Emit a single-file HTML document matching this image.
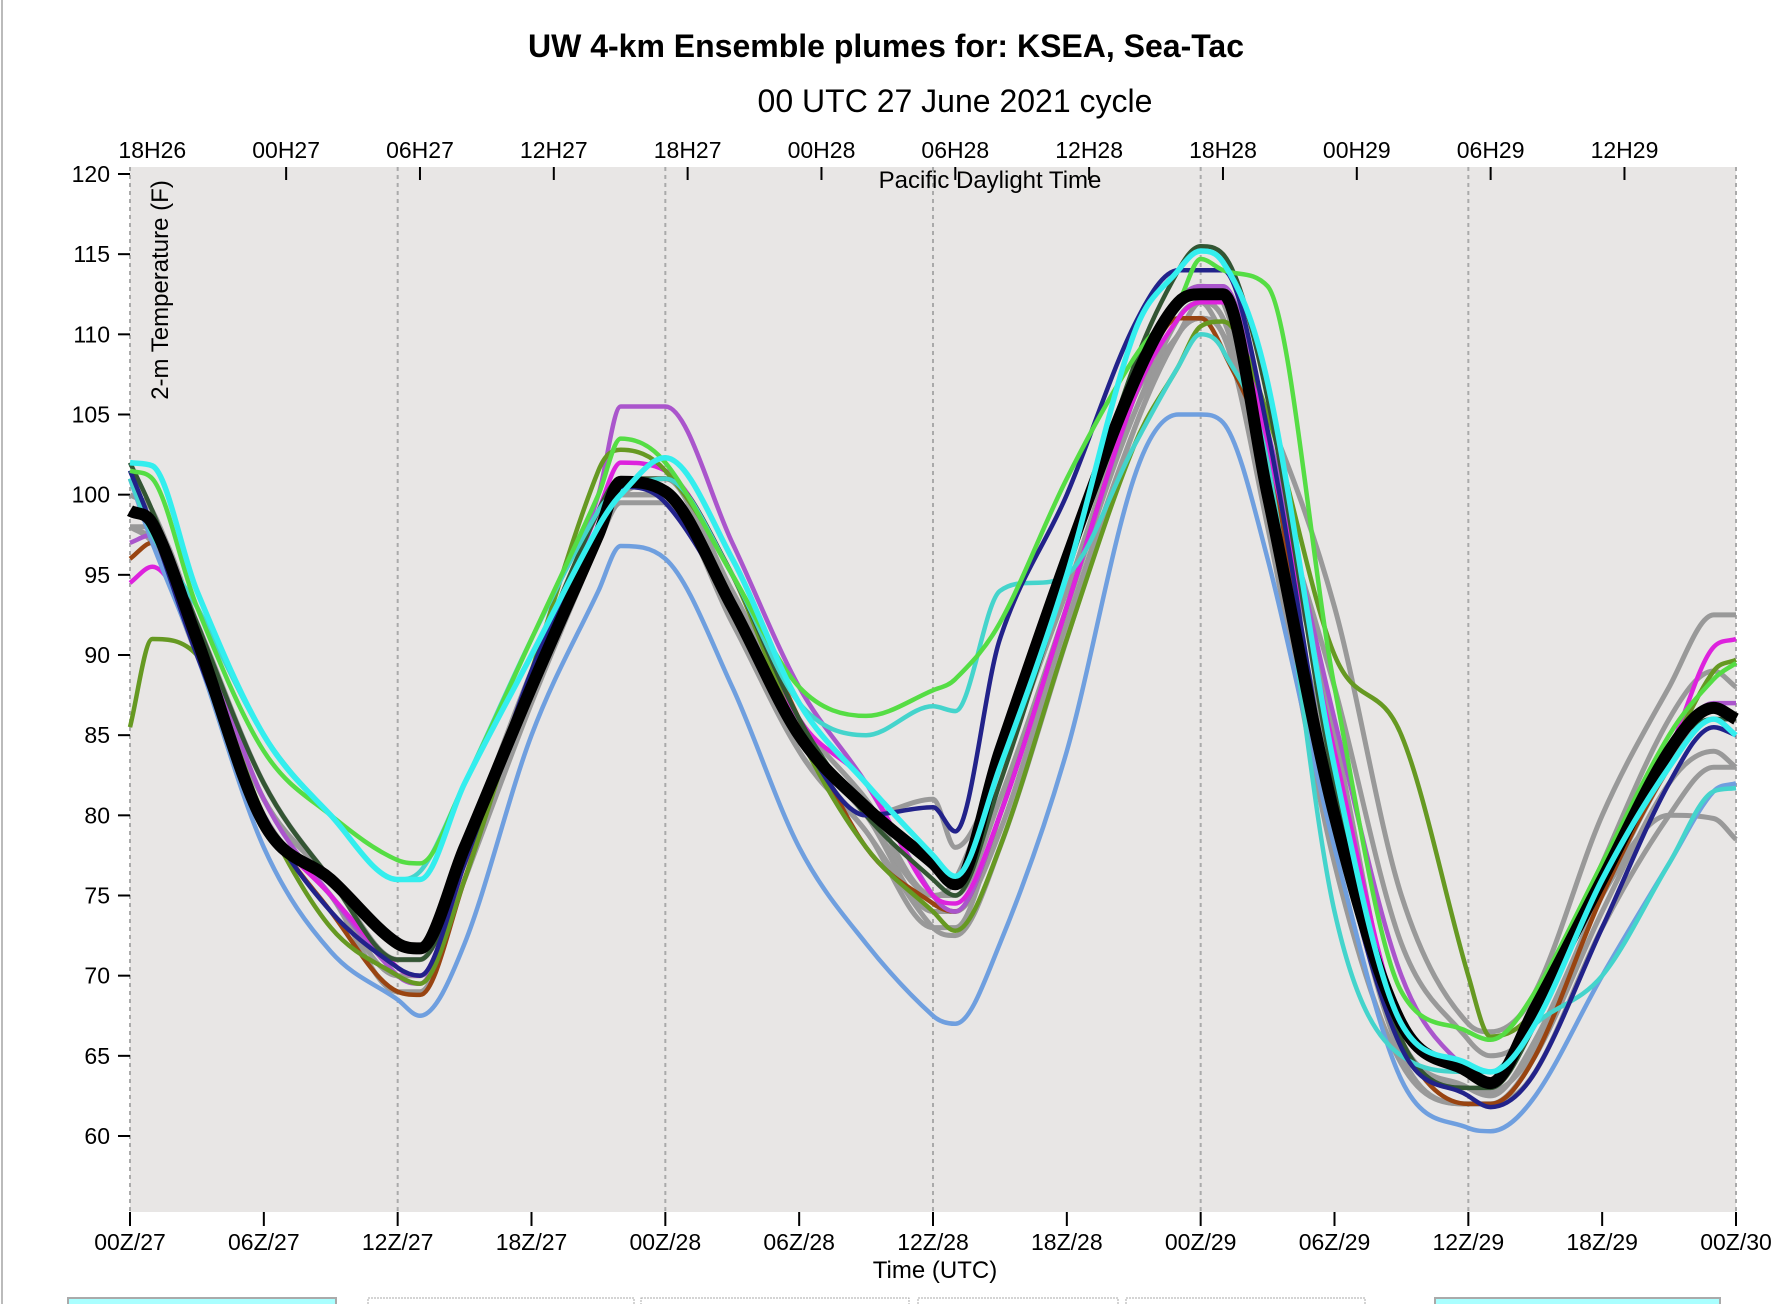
<!DOCTYPE html>
<html><head><meta charset="utf-8"><style>
html,body{margin:0;padding:0;background:#fff;}
svg{display:block;font-family:"Liberation Sans",sans-serif;}
</style></head><body>
<svg id="chart" width="1772" height="1304" viewBox="0 0 1772 1304">
<line x1="2" y1="0" x2="2" y2="1304" stroke="#bbb" stroke-width="2"/>
<text x="886" y="57" text-anchor="middle" font-size="32" font-weight="bold">UW 4-km Ensemble plumes for: KSEA, Sea-Tac</text>
<text x="955" y="112" text-anchor="middle" font-size="32">00 UTC 27 June 2021 cycle</text>
<rect x="130" y="167" width="1606" height="1045" fill="#e8e6e5"/>
<g id="grid"></g>
<g id="axes"></g>
<g id="series"></g>
<text x="990" y="188" text-anchor="middle" font-size="24">Pacific Daylight Time</text>
<text transform="translate(168,290) rotate(-90)" text-anchor="middle" font-size="24">2-m Temperature (F)</text>
<text x="935" y="1278" text-anchor="middle" font-size="24">Time (UTC)</text>
<rect x="68" y="1298" width="268" height="10" fill="#aaffff" stroke="#aaa" stroke-width="2"/>
<rect x="368" y="1298" width="266" height="10" fill="none" stroke="#aaa" stroke-dasharray="2,1"/>
<rect x="641" y="1298" width="268" height="10" fill="none" stroke="#aaa" stroke-dasharray="2,1"/>
<rect x="918" y="1298" width="200" height="10" fill="none" stroke="#aaa" stroke-dasharray="2,1"/>
<rect x="1126" y="1298" width="239" height="10" fill="none" stroke="#aaa" stroke-dasharray="2,1"/>
<rect x="1435" y="1298" width="285" height="10" fill="#aaffff" stroke="#aaa" stroke-width="2"/>
</svg>
<script>
const hours=[0,1,3,6,9,12,13,15,18,21,22,24,27,30,33,36,37,39,42,45,47,48,49,51,54,57,60,61,63,66,69,71,72];
const yTicks=[60,65,70,75,80,85,90,95,100,105,110,115,120];
const xTickLabels=["00Z/27","06Z/27","12Z/27","18Z/27","00Z/28","06Z/28","12Z/28","18Z/28","00Z/29","06Z/29","12Z/29","18Z/29","00Z/30"];
const topTickLabels=["18H26","00H27","06H27","12H27","18H27","00H28","06H28","12H28","18H28","00H29","06H29","12H29"];
const grey1=[98,97,90,80,75,70,70,76,88,97,99.5,99.5,92,84,79,73,72.5,78,91,104,110,111,110,98,77,64.5,62,62,64,73,80,83,83];
const grey2=[98,98,92,82,76,71,71,78,89,98,100,101,94,86,81,75,76,83,94,106,110,112,110,105,93,75,67,66.5,69,80,88,92.5,92.5];
const grey3=[100,99,92,82,76,71,71,77,88,97,100,100,93,85,80,81,78,83,94,105,111,112,111,101,85,66,63,62.5,66,75,83,86,85];
const grey4=[99,98,91,80,75,69,69,76,87,97,100,100,93,84,79,73,73,80,93,105,110,112,111,99,80,65,62,62,65,74,82,84,83];
const grey5=[98,97,92,81,76,71,71,77,88,97,100,100,93,85,80,74,74,79,92,104,110,111,110,100,82,66,63,62.8,65.5,75,80,79.8,78.5];
const grey6=[99,98,91,81,76,71,71,77,88,98,100.5,101,93,85,80,75,75,81,93,106,112,113,112,102,88,72,66,65,67,77,86,89,88];
const brown=[96,97,91,80,74,69,68.8,76,89,98,101,101,95,86,78,74.5,74,80,93,106,111,111,109,102,80,66,62,62,65,75,83,86,86];
const purple=[97,97.5,92,81,75,70,69.5,77,88,100,105.5,105.5,97,88,82,75,74,80,93,106,112,113,113,104,86,70,64,63.5,67,76,84,87,87];
const magenta=[94.5,95.5,91,80,75,70.5,70,77,89,99,102,101.5,95,86,82,75,74.5,80,93,106,111,112,112,103,84,67,64,63.5,67,76,84,90.5,91];
const olive=[85.5,91,90,80,73,70,69.5,76,89,101.5,102.8,101.5,95,85,78,74,72.8,78,91,103,108,110.5,110.8,105,90,85,70,66.2,68,77,84,89,89.7];
const darkgreen=[102,99,92,82,76,71,71,77,89,99,101,101,95,86,80,76,75,82,95,108,114,115.5,115,106,82,66,63,63,67,76,84,86,86];
const cornflower=[101,97,90,78,71.5,68.5,67.5,72,85,94,96.8,96,88,78,72,67.5,67,72,84,101,105,105,104.5,96,78,63.5,60.5,60.3,62.5,70,77,81.5,82];
const turquoise=[101,97.5,93,85,80,76,76.5,82,91,99,100.3,101,95,87,85,86.8,86.5,94,95,103,108,110,109,102,74,65,64,64,67,70,77,81.5,81.7];
const navy=[101.5,98,90,80,74,70.5,70,77,89,98,100.5,99.5,93,85,80,80.5,79,91,100,110.5,114,114,114,104,80,65.5,62.5,61.8,64,73,82,85.5,85];
const lightgreen=[101.5,101,93,84,80,77.2,77,82,91,100,103.5,102,95,88,86.2,87.8,88.5,92,101,108.5,112,114.7,114,113,88,69,66.5,66,69,77,85,88.5,89.5];
const mean=[99,98.2,91,79.5,76,72,71.7,78,88,97.5,100.8,100.2,93,85,80.5,77,75.7,84,96,107,112,112.5,112.5,100,80,67,64,63.3,68,76,84,86.7,86];
const cyan=[102,101.8,94,85,80,76,76,82,90,98,100,102.3,96,87,82,77.5,76.2,83,95,110,114,115.2,114.5,107,83,67,64.5,64,67,76,83,86,85];

const NS="http://www.w3.org/2000/svg";
const X0=130,X1=1736,Y120=174,PX=(1136-174)/60;
function xs(h){return X0+h*(X1-X0)/72;}
function ys(v){return Y120+(120-v)*PX;}
function mk(tag,attrs,parent){const e=document.createElementNS(NS,tag);for(const k in attrs)e.setAttribute(k,attrs[k]);parent.appendChild(e);return e;}
const grid=document.getElementById('grid'),axes=document.getElementById('axes'),ser=document.getElementById('series');
for(let i=0;i<xTickLabels.length;i++){
  const h=i*6,x=xs(h);
  if(i%2===0){const g=mk('line',{x1:x,y1:167,x2:x,y2:1212,stroke:'#aaa','stroke-width':2,'stroke-dasharray':'4,4'},grid);
  
  }
  const t=mk('line',{x1:x,y1:1212,x2:x,y2:1226,stroke:'#000','stroke-width':2},axes);
  
  
  const l=mk('text',{x:x,y:1250,'text-anchor':'middle','font-size':23},axes);l.textContent=xTickLabels[i];
  
  
}
for(let i=0;i<topTickLabels.length;i++){
  const h=1+i*6,x=xs(h);
  if(i>0){const t=mk('line',{x1:x,y1:167,x2:x,y2:180,stroke:'#000','stroke-width':2},axes);
  
  }
  const l=mk('text',{x:x,y:158,'text-anchor':'middle','font-size':23},axes);l.textContent=topTickLabels[i];
  
  
}
for(const v of yTicks){
  const y=ys(v);
  const t=mk('line',{x1:118,y1:y,x2:130,y2:y,stroke:'#000','stroke-width':2},axes);
  
  
  const l=mk('text',{x:110,y:y+8,'text-anchor':'end','font-size':23},axes);l.textContent=v;
  
  
}
function draw(arr,color,w,name){
  const P=arr.map((v,i)=>[xs(hours[i]),ys(v)]);
  const n=P.length,m=[];
  for(let i=0;i<n;i++){
    const a=P[Math.max(0,i-1)],b=P[Math.min(n-1,i+1)];
    let s=(b[1]-a[1])/(b[0]-a[0]);
    // damp at local extrema to avoid overshoot
    if(i>0&&i<n-1){const d1=P[i][1]-P[i-1][1],d2=P[i+1][1]-P[i][1];if(d1*d2<=0)s=0;
      else{const s1=d1/(P[i][0]-P[i-1][0]),s2=d2/(P[i+1][0]-P[i][0]);const lim=3*Math.min(Math.abs(s1),Math.abs(s2));if(Math.abs(s)>lim)s=Math.sign(s)*lim;}}
    m.push(s);
  }
  let d='M'+P[0][0].toFixed(1)+','+P[0][1].toFixed(1);
  for(let i=0;i<n-1;i++){
    const dx=(P[i+1][0]-P[i][0])/3;
    d+='C'+(P[i][0]+dx).toFixed(1)+','+(P[i][1]+m[i]*dx).toFixed(1)+' '+(P[i+1][0]-dx).toFixed(1)+','+(P[i+1][1]-m[i+1]*dx).toFixed(1)+' '+P[i+1][0].toFixed(1)+','+P[i+1][1].toFixed(1);
  }
  const p=mk('path',{d:d,fill:'none',stroke:color,'stroke-width':w,'stroke-linejoin':'round'},ser);
  
  
}
draw(grey1,'#999',5,'member-grey-1');
draw(grey2,'#999',5,'member-grey-2');
draw(grey3,'#999',5,'member-grey-3');
draw(grey4,'#999',5,'member-grey-4');
draw(grey5,'#999',5,'member-grey-5');
draw(grey6,'#999',5,'member-grey-6');
draw(brown,'#994411',4.5,'member-brown');
draw(purple,'#aa55cc',4.5,'member-purple');
draw(magenta,'#dd22dd',4.5,'member-magenta');
draw(olive,'#669922',4.5,'member-olive');
draw(darkgreen,'#335533',4.5,'member-darkgreen');
draw(cornflower,'#6f9fdf',4.5,'member-cornflower');
draw(turquoise,'#44d4cc',4.5,'member-turquoise');
draw(navy,'#22228a',4.5,'member-navy');
draw(lightgreen,'#55dd44',4.5,'member-lightgreen');
draw(mean,'#000',12,'ensemble-mean');
draw(cyan,'#33eeee',5.5,'member-cyan');
</script>
</body></html>
